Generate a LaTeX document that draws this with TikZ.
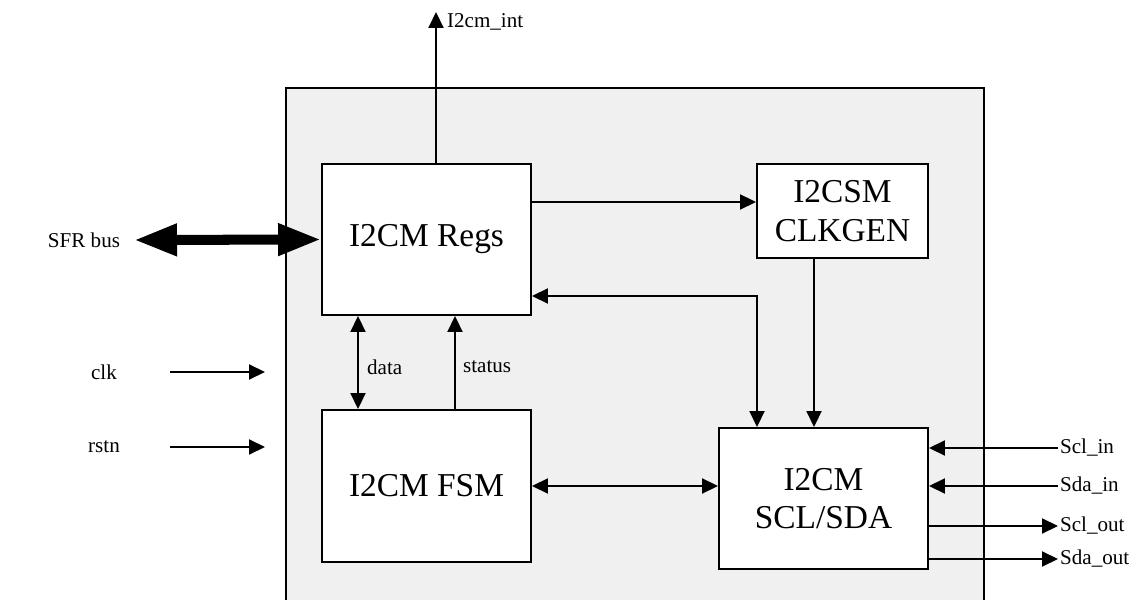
\documentclass[tikz,border=0pt]{standalone}
\usepackage{fontspec}
\setmainfont{Liberation Serif}
\usetikzlibrary{positioning,arrows.meta}
\definecolor{i2cinzaclaro}{HTML}{F0F0F0}
\tikzset{
  i2bloco/.style={draw=black, fill=white, line width=1.1pt, align=center,
                  font=\fontsize{19}{22}\selectfont, inner sep=0pt},
  i2seta/.style={-{Triangle[length=3.2mm,width=3mm]}, line width=1.1pt},
  i2setadupla/.style={{Triangle[length=3.2mm,width=3mm]}-{Triangle[length=3.2mm,width=3mm]}, line width=1.1pt},
  i2barramento/.style={{Triangle[length=8.6mm,width=6mm]}-{Triangle[length=8.6mm,width=6mm]}, line width=5.7pt},
  i2rotulo/.style={font=\fontsize{12}{14}\selectfont, inner sep=1pt},
}
\begin{document}
\begin{tikzpicture}
        \useasboundingbox (0,0) rectangle (22.7,11.98);
        % ---------------- moldura ----------------
        \filldraw[fill=i2cinzaclaro, line width=0.8pt] (5.72,-0.3) rectangle (19.68,10.22);
        % ---------------- blocos ----------------
        \node[i2bloco, minimum width=4.18cm, minimum height=3.02cm] (regs) at (8.53,7.19) {I2CM Regs};
        \node[i2bloco, minimum width=4.18cm, minimum height=3.04cm] (fsm) at (8.53,2.26) {I2CM FSM};
        \node[i2bloco, minimum width=3.42cm, minimum height=1.88cm] (clkgen) at (16.85,7.76) {I2CSM\\CLKGEN};
        \node[i2bloco, minimum width=4.18cm, minimum height=2.82cm] (sclsda) at (16.47,2.01) {I2CM\\SCL/SDA};
        % ---------------- sinais externos ----------------
        \node[i2rotulo] (sfr) at (1.68,7.18) {SFR bus};
        \node[i2rotulo] (clk) at (2.08,4.54) {clk};
        \node[i2rotulo] (rstn) at (2.08,3.04) {rstn};
        \node[i2rotulo, anchor=west] (int) at (8.9,11.54) {I2cm\_int};
        \node[i2rotulo, anchor=west] (sclin) at (21.16,3.02) {Scl\_in};
        \node[i2rotulo, anchor=west] (sdain) at (21.16,2.26) {Sda\_in};
        \node[i2rotulo, anchor=west] (sclout) at (21.16,1.46) {Scl\_out};
        \node[i2rotulo, anchor=west] (sdaout) at (21.16,0.80) {Sda\_out};
        \node[i2rotulo, anchor=west] (data) at (7.30,4.64) {data};
        \node[i2rotulo, anchor=west] (status) at (9.22,4.64) {status};
        % ---------------- pontos auxiliares ----------------
        \coordinate (sfrfim) at (2.68,7.18);
        \coordinate (clkini) at (3.40,4.54);
        \coordinate (clkfim) at (5.30,4.54);
        \coordinate (rstnini) at (3.40,3.04);
        \coordinate (rstnfim) at (5.30,3.04);
        \coordinate (intfim) at (8.72,11.74);
        \coordinate (xdata) at (7.16,0);
        \coordinate (xstatus) at (9.10,0);
        \coordinate (yclkgen) at (0,7.94);
        \coordinate (canto) at (15.14,6.06);
        \coordinate (xclkgen) at (16.28,0);
        % ---------------- setas ----------------
        \draw[i2barramento] (sfrfim) -- (regs.west);
        \draw[i2seta] (clkini) -- (clkfim);
        \draw[i2seta] (rstnini) -- (rstnfim);
        \draw[i2seta] (regs.north -| intfim) -- (intfim);
        \draw[i2setadupla] (xdata |- fsm.north) -- (xdata |- regs.south);
        \draw[i2seta] (xstatus |- fsm.north) -- (xstatus |- regs.south);
        \draw[i2seta] (regs.east |- yclkgen) -- (clkgen.west |- yclkgen);
        \draw[i2setadupla] (regs.east |- canto) -| (sclsda.north -| canto);
        \draw[i2seta] (xclkgen |- clkgen.south) -- (xclkgen |- sclsda.north);
        \draw[i2setadupla] (fsm.east) -- (sclsda.west |- fsm.east);
        \draw[i2seta] (sclin.west) -- (sclsda.east |- sclin);
        \draw[i2seta] (sdain.west) -- (sclsda.east |- sdain);
        \draw[i2seta] (sclsda.east |- sclout) -- (sclout.west);
        \draw[i2seta] (sclsda.east |- sdaout) -- (sdaout.west);
    \end{tikzpicture}
\end{document}
